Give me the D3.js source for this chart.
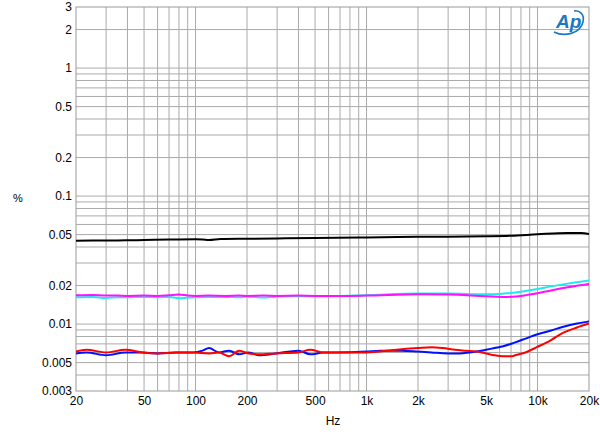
<!DOCTYPE html>
<html><head><meta charset="utf-8">
<script src="https://cdn.jsdelivr.net/npm/d3@7"></script>
<style>body{margin:0;background:#fff}svg{display:block}text{font-family:"Liberation Sans",Arial,sans-serif}</style>
</head><body><svg id="c" width="600" height="438"></svg>
<script>
const xTicks = [20,50,100,200,500,1000,2000,5000,10000,20000];
const xTickLabels = ["20","50","100","200","500","1k","2k","5k","10k","20k"];
const yTicks = [3,2,1,0.5,0.2,0.1,0.05,0.02,0.01,0.005,0.003];
const yTickLabels = ["3","2","1","0.5","0.2","0.1","0.05","0.02","0.01","0.005","0.003"];

const blackFreq = [20,25,30,40,50,70,100,110,120,140,200,300,500,1000,2000,5000,7000,10000,15000,18000,20000];
const blackVal  = [0.0447,0.0449,0.045,0.0451,0.0454,0.0457,0.046,0.0458,0.0453,0.0461,0.0464,0.0467,0.047,0.0475,0.048,0.0485,0.049,0.0503,0.0515,0.0514,0.0505];

const cyanFreq = [20,25,30,35,40,50,60,70,80,90,100,120,150,180,200,250,300,400,500,700,1000,2000,3000,5000,6000,7000,8000,10000,12000,15000,20000];
const cyanVal  = [0.0162,0.0163,0.016,0.0162,0.0162,0.0163,0.0162,0.0163,0.0159,0.0161,0.0162,0.0163,0.0163,0.0162,0.0164,0.0161,0.0164,0.0165,0.0165,0.0166,0.0168,0.0173,0.0173,0.0171,0.0172,0.0175,0.0179,0.0188,0.0197,0.0207,0.0219];
const magentaFreq = [20,25,30,35,40,50,60,70,80,90,100,120,150,180,200,250,300,400,500,700,1000,2000,3000,5000,6600,7500,8500,10000,12000,15000,20000];
const magentaVal  = [0.0168,0.0169,0.0167,0.0167,0.0166,0.0167,0.0166,0.0168,0.017,0.0167,0.0166,0.0167,0.0166,0.0167,0.0166,0.0167,0.0166,0.0167,0.0166,0.0166,0.0167,0.0171,0.017,0.0165,0.0163,0.0164,0.0168,0.0174,0.0183,0.0194,0.0206];

const blueFreq = [20,23,30,39,49,60,77,97,110,120,137,157,180,205,236,295,400,470,560,660,1000,1200,1600,2000,2400,3000,3500,4000,4400,5000,5600,6300,7400,8500,9900,12000,14000,17000,20000];
const blueVal  = [0.0059,0.006,0.0057,0.006,0.006,0.0059,0.006,0.006,0.0062,0.0065,0.006,0.0062,0.0058,0.006,0.0057,0.0059,0.0062,0.0058,0.006,0.006,0.0061,0.0062,0.0062,0.0061,0.006,0.0059,0.0059,0.006,0.0061,0.0063,0.0065,0.0067,0.0072,0.0077,0.0083,0.0089,0.0095,0.0101,0.0105];
const redFreq = [20,23,30,39,49,60,77,97,120,137,157,180,205,236,295,400,470,560,660,1000,1200,1500,2000,2400,2800,3300,3800,4400,5000,5600,6300,7000,7400,8500,9900,12000,14000,17000,20000];
const redVal  = [0.0061,0.0063,0.006,0.0063,0.006,0.0059,0.006,0.006,0.0059,0.006,0.0056,0.0062,0.0059,0.0058,0.0059,0.006,0.0063,0.006,0.006,0.006,0.0061,0.0063,0.0065,0.0066,0.0065,0.0063,0.0062,0.0061,0.0059,0.0057,0.0056,0.0056,0.0057,0.006,0.0066,0.0075,0.0085,0.0094,0.0101];

const series = [
  {f:blackFreq, v:blackVal, color:"#000000"},
  {f:cyanFreq, v:cyanVal, color:"#22e8f0"},
  {f:magentaFreq, v:magentaVal, color:"#ff10ff"},
  {f:blueFreq, v:blueVal, color:"#0010ff"},
  {f:redFreq, v:redVal, color:"#ff0000"}
];

const L=76, R=589, T=7, B=391;
const svg = d3.select("#c");
const x = d3.scaleLog().domain([20,20000]).range([L,R]);
const y = d3.scaleLog().domain([0.003,3]).range([B,T]);

// grid
const xGrid=[], yGrid=[];
for (let d=10; d<=10000; d*=10) for (let m=1;m<=9;m++){const v=d*m; if(v>20&&v<20000) xGrid.push(v);}
for (let d=0.001; d<=1.0001; d*=10) for (let m=1;m<=9;m++){const v=+(d*m).toPrecision(3); if(v>0.003&&v<3) yGrid.push(v);}
const g = svg.append("g");
g.selectAll(".vx").data(xGrid).enter().append("line")
  .attr("x1",d=>x(d)).attr("x2",d=>x(d)).attr("y1",T).attr("y2",B)
  .attr("stroke","#aaaaaa").attr("stroke-width",1);
g.selectAll(".hy").data(yGrid).enter().append("line")
  .attr("x1",L).attr("x2",R).attr("y1",d=>y(d)).attr("y2",d=>y(d))
  .attr("stroke","#aaaaaa").attr("stroke-width",1);
svg.append("rect").attr("x",L).attr("y",T).attr("width",R-L).attr("height",B-T)
  .attr("fill","none").attr("stroke","#999999").attr("stroke-width",1);

// axes
const xAxis = d3.axisBottom(x).tickValues(xTicks).tickSize(0).tickPadding(5)
  .tickFormat((d,i)=>xTickLabels[i]);
const gx = svg.append("g").attr("transform",`translate(0,${B})`).call(xAxis);
gx.select(".domain").remove();
gx.selectAll("text").attr("font-size",12).attr("fill","#000").attr("font-family","Liberation Sans, Arial, sans-serif");
const yAxis = d3.axisLeft(y).tickValues(yTicks).tickSize(0).tickPadding(4)
  .tickFormat((d,i)=>yTickLabels[i]);
const gy = svg.append("g").attr("transform",`translate(${L},0)`).call(yAxis);
gy.select(".domain").remove();
gy.selectAll("text").attr("font-size",12).attr("fill","#000").attr("font-family","Liberation Sans, Arial, sans-serif");

svg.append("text").attr("x",18).attr("y",202).attr("text-anchor","middle").attr("font-size",11).text("%");
svg.append("text").attr("x",333).attr("y",425).attr("text-anchor","middle").attr("font-size",12).text("Hz");

// lines
const line = d3.line().x(d=>x(d[0])).y(d=>y(d[1])).curve(d3.curveMonotoneX);
svg.append("clipPath").attr("id","cp").append("rect").attr("x",L).attr("y",T).attr("width",R-L).attr("height",B-T);
series.forEach(s=>{
  svg.append("path").datum(s.f.map((f,i)=>[f,s.v[i]]))
    .attr("d",line).attr("fill","none").attr("stroke",s.color).attr("stroke-width",2)
    .attr("clip-path","url(#cp)");
});

// AP logo
const logo = svg.append("g").attr("transform","translate(552,10)");
logo.append("text").attr("x",4).attr("y",18).attr("font-size",19).attr("font-style","italic")
  .attr("font-weight","bold").attr("fill","#1a78c2").attr("font-family","Liberation Sans, Arial, sans-serif").text("Ap");
logo.append("path").attr("d","M2,22 C12,27 28,24 31,12 C33,4 27,0 22,1")
  .attr("fill","none").attr("stroke","#1a78c2").attr("stroke-width",1.6);
</script></body></html>
